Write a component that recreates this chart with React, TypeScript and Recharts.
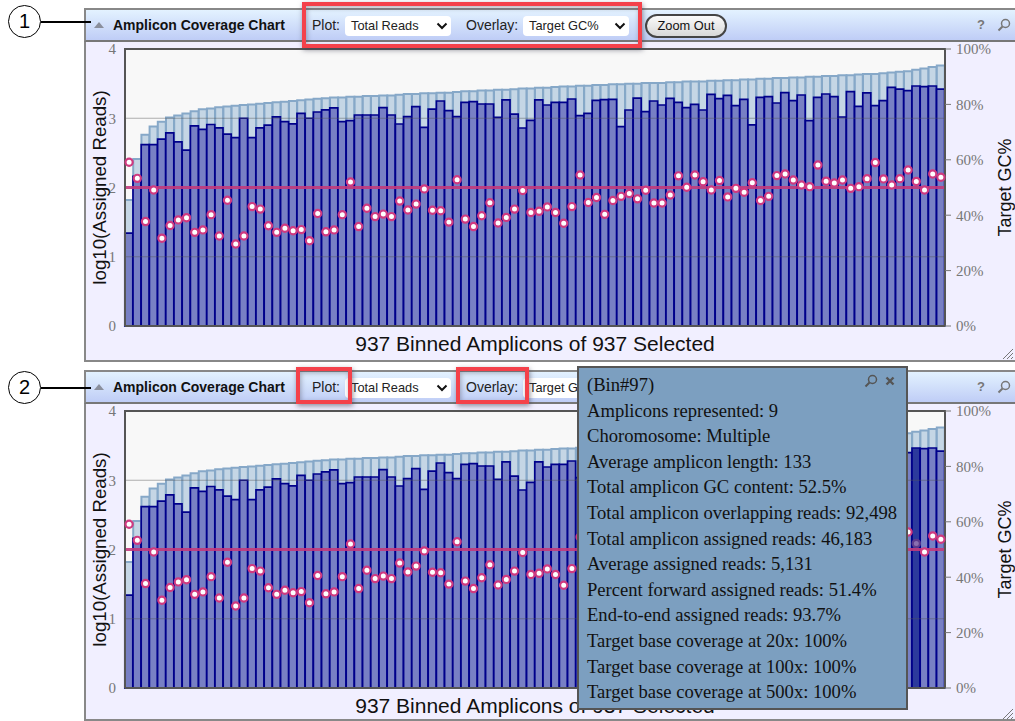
import { ComposedChart, Bar, Line, Cell, XAxis, YAxis, ReferenceLine } from "recharts";

const overlappingLog = [
  1.82, 2.41, 2.76, 2.88, 2.95, 3.01, 3.04, 3.07, 3.1, 3.13, 3.14, 3.16, 3.17, 3.18, 3.19, 3.2, 3.21, 3.22, 3.23, 3.24,
  3.25, 3.26, 3.27, 3.28, 3.29, 3.3, 3.3, 3.31, 3.31, 3.32, 3.32, 3.33, 3.33, 3.34, 3.35, 3.35, 3.36, 3.36, 3.37, 3.37,
  3.38, 3.39, 3.39, 3.4, 3.4, 3.41, 3.41, 3.42, 3.43, 3.43, 3.44, 3.44, 3.45, 3.46, 3.46, 3.47, 3.47, 3.48, 3.48, 3.49,
  3.49, 3.5, 3.5, 3.51, 3.51, 3.51, 3.52, 3.52, 3.53, 3.53, 3.53, 3.54, 3.54, 3.55, 3.55, 3.56, 3.56, 3.57, 3.57, 3.58,
  3.58, 3.59, 3.59, 3.6, 3.6, 3.61, 3.61, 3.62, 3.62, 3.63, 3.64, 3.64, 3.65, 3.66, 3.67, 3.68, 3.7, 3.72, 3.74, 3.76,
];

const assignedLog = [
  1.34, 2.16, 2.62, 2.62, 2.7, 2.79, 2.66, 2.54, 2.89, 2.84, 2.91, 2.86, 2.77, 2.72, 3.0, 2.72, 2.86, 2.9, 3.02, 2.95,
  2.92, 3.07, 3.0, 3.09, 3.12, 3.15, 2.95, 2.965, 3.047, 3.047, 3.047, 3.153, 3.047, 2.917, 3.023, 3.167, 2.869, 3.133,
  3.249, 3.11, 3.023, 3.23, 3.239, 3.206, 3.206, 3.013, 3.264, 3.061, 2.859, 2.97, 3.264, 3.191, 3.23, 3.23, 3.278,
  3.037, 3.071, 3.259, 3.268, 3.273, 2.878, 3.119, 3.292, 3.095, 3.249, 3.191, 3.288, 3.23, 3.153, 3.201, 3.119, 3.345,
  3.283, 3.331, 3.182, 3.273, 2.903, 3.302, 3.312, 3.22, 3.369, 3.254, 3.336, 2.965, 3.302, 3.35, 3.312, 3.018, 3.384,
  3.172, 3.365, 3.182, 3.254, 3.446, 3.422, 3.398, 3.466, 3.456, 3.466, 3.422,
];

const targetGc = [
  59.1, 53.3, 37.7, 49.1, 31.7, 36.3, 38.3, 39.1, 33.8, 34.7, 40.2, 32.5, 45.4, 29.6, 32.5, 43.1, 42.2, 36.2, 33.8, 35.3,
  34.4, 34.8, 30.8, 40.6, 34.0, 34.7, 40.2, 52.0, 35.9, 42.5, 39.5, 40.4, 39.5, 45.1, 41.9, 44.0, 49.5, 41.8, 41.6, 37.5,
  52.8, 38.6, 35.9, 39.8, 44.5, 37.2, 39.2, 42.2, 48.9, 41.0, 41.4, 43.0, 41.0, 37.1, 43.1, 54.5, 44.6, 46.4, 40.3, 45.3,
  46.8, 47.8, 45.9, 49.0, 44.4, 44.4, 47.3, 54.2, 50.1, 54.5, 52.1, 49.1, 52.5, 46.6, 49.7, 48.3, 51.7, 45.3, 46.8, 54.3,
  54.9, 52.7, 50.9, 50.3, 58.1, 52.3, 51.6, 52.7, 49.7, 50.3, 53.2, 59.0, 53.1, 50.9, 53.2, 56.3, 52.2, 49.1, 54.9, 53.7,
];

const readTicks = [0, 1, 2, 3, 4];
const gcTicks = [0, 20, 40, 60, 80, 100];
const gridValues = [1, 3];

const tooltipLines = [
  "(Bin#97)",
  "Amplicons represented: 9",
  "Choromosome: Multiple",
  "Average amplicon length: 133",
  "Total amplicon GC content: 52.5%",
  "Total amplicon overlapping reads: 92,498",
  "Total amplicon assigned reads: 46,183",
  "Average assigned reads: 5,131",
  "Percent forward assigned reads: 51.4%",
  "End-to-end assigned reads: 93.7%",
  "Target base coverage at 20x: 100%",
  "Target base coverage at 100x: 100%",
  "Target base coverage at 500x: 100%",
];

const chartData = overlappingLog.map((v, i) => ({
  bin: i + 1,
  overlapping: v,
  assigned: assignedLog[i],
  gc: targetGc[i],
}));

const SANS = "'Liberation Sans', Arial, sans-serif";
const SERIF = "'Liberation Serif', 'Times New Roman', serif";

function abs(left: number, top: number, width: number, height: number): React.CSSProperties {
  return { position: "absolute", left, top, width, height, boxSizing: "border-box" };
}

function Select({ left, top, width, label }: { left: number; top: number; width: number; label: string }) {
  return (
    <div
      style={{
        ...abs(left, top, width, 20),
        background: "#fff",
        borderRadius: 4,
        fontFamily: SANS,
        fontSize: 12.8,
        lineHeight: "20px",
        paddingLeft: 6,
        color: "#222",
      }}
    >
      {label}
      <svg width={12} height={8} style={{ position: "absolute", right: 3, top: 6 }}>
        <path d="M1.5 1.5 L6 6 L10.5 1.5" fill="none" stroke="#111" strokeWidth={2} />
      </svg>
    </div>
  );
}

function Magnifier({ left, top, color }: { left: number; top: number; color: string }) {
  return (
    <svg width={14} height={14} style={{ position: "absolute", left, top }}>
      <circle cx={8.5} cy={5.5} r={4} fill="none" stroke={color} strokeWidth={1.5} />
      <path d="M5.5 8.5 L1.5 12.5" stroke={color} strokeWidth={2} />
    </svg>
  );
}

function HighlightBox({ left, top, width, height }: { left: number; top: number; width: number; height: number }) {
  return (
    <div
      style={{
        ...abs(left, top, width, height),
        border: "4px solid #f4414a",
        boxShadow: "1px 2px 5px rgba(60,60,80,0.55), inset 1px 2px 5px rgba(60,60,80,0.4)",
      }}
    />
  );
}

function Callout({ top, num }: { top: number; num: string }) {
  return (
    <>
      <div
        style={{
          ...abs(8, top - 16, 33, 33),
          border: "1.5px solid #000",
          borderRadius: "50%",
          background: "#fff",
          textAlign: "center",
          fontFamily: SANS,
          fontSize: 20,
          lineHeight: "30px",
          color: "#000",
        }}
      >
        {num}
      </div>
      <div style={{ ...abs(41, top, 50, 1.5), background: "#000" }} />
    </>
  );
}

function GcDot(props: any) {
  const { cx, cy, index, highlight } = props;
  const active = index === highlight;
  return (
    <circle
      key={index}
      cx={cx}
      cy={cy}
      r={3.6}
      fill={active ? "#8a6fb0" : "#fff"}
      stroke={active ? "#5c3a8e" : "#cf3a80"}
      strokeWidth={2.2}
    />
  );
}

function CoverageChart({ highlight }: { highlight?: number }) {
  return (
    <ComposedChart
      width={931}
      height={320}
      data={chartData}
      margin={{ top: 7, right: 0, bottom: 0, left: 0 }}
      barCategoryGap={0}
      barGap="-100%"
      style={{ position: "absolute", left: 0, top: 0 }}
    >
      <XAxis
        dataKey="bin"
        height={36}
        tick={false}
        tickLine={false}
        axisLine={{ stroke: "#555", strokeWidth: 2 }}
        label={{
          value: "937 Binned Amplicons of 937 Selected",
          position: "insideBottom",
          offset: 11,
          fill: "#111",
          fontSize: 21,
          fontFamily: SANS,
        }}
      />
      <YAxis
        yAxisId="reads"
        width={41}
        domain={[0, 4]}
        ticks={readTicks}
        tickLine={false}
        axisLine={{ stroke: "#555", strokeWidth: 2 }}
        interval={0}
        tick={{ fill: "#777", fontSize: 15, fontFamily: SERIF }}
        tickMargin={3}
        label={{
          value: "log10(Assigned Reads)",
          angle: -90,
          position: "insideLeft",
          textAnchor: "middle",
          offset: 0,
          dx: 15,
          fill: "#111",
          fontSize: 18.7,
          fontFamily: SANS,
        }}
      />
      <YAxis
        yAxisId="gc"
        orientation="right"
        width={70}
        domain={[0, 100]}
        ticks={gcTicks}
        interval={0}
        tickFormatter={(v: number) => `${v}%`}
        tickLine={{ stroke: "#777" }}
        tickSize={6}
        tickMargin={5}
        axisLine={{ stroke: "#555", strokeWidth: 2 }}
        tick={{ fill: "#777", fontSize: 15, fontFamily: SERIF }}
        label={{
          value: "Target GC%",
          angle: -90,
          position: "insideRight",
          textAnchor: "middle",
          offset: 0,
          dx: -10,
          fill: "#111",
          fontSize: 18,
          fontFamily: SANS,
        }}
      />
      <Bar
        yAxisId="reads"
        dataKey="overlapping"
        fill="#c5d6e5"
        stroke="#86a8c8"
        strokeWidth={2}
        isAnimationActive={false}
      />
      <Bar
        yAxisId="reads"
        dataKey="assigned"
        fill="#7880c4"
        stroke="#00008b"
        strokeWidth={1.7}
        isAnimationActive={false}
      >
        {chartData.map((_, i) => (
          <Cell key={i} fill={i === highlight ? "#2c3a9c" : "#7880c4"} />
        ))}
      </Bar>
      {gridValues.map((v) => (
        <ReferenceLine key={v} yAxisId="reads" y={v} stroke="#555" strokeOpacity={0.45} />
      ))}
      <Line
        yAxisId="gc"
        dataKey="gc"
        stroke="none"
        isAnimationActive={false}
        dot={(p: any) => <GcDot {...p} highlight={highlight} />}
      />
      <ReferenceLine yAxisId="gc" y={50} stroke="#c2397c" strokeOpacity={0.9} strokeWidth={3} />
    </ComposedChart>
  );
}

function Panel({ top, height }: { top: number; height: number }) {
  return (
    <div style={{ ...abs(84, top, 940, height), background: "#f1efff", border: "2px solid #888" }}>
      <div
        style={{
          ...abs(-2, -2, 940, 34),
          background: "linear-gradient(#e3f2ff, #bfcdf6)",
          borderTop: "2px solid #888",
          borderBottom: "2px solid #777",
          borderLeft: "2px solid #888",
        }}
      />
    </div>
  );
}

function Header({ top, zoomOut }: { top: number; zoomOut?: boolean }) {
  const labelStyle: React.CSSProperties = { fontFamily: SANS, fontSize: 14, lineHeight: "20px", color: "#222" };
  return (
    <>
      <svg width={10} height={6} style={{ position: "absolute", left: 94, top: top + 14 }}>
        <path d="M0 6 L5 0 L10 6 Z" fill="#8a8f9c" />
      </svg>
      <div style={{ ...abs(113, top + 7, 190, 20), fontFamily: SANS, fontWeight: 700, fontSize: 14, lineHeight: "20px", color: "#111", whiteSpace: "nowrap" }}>
        Amplicon Coverage Chart
      </div>
      <div style={{ ...abs(312, top + 7, 40, 20), ...labelStyle }}>Plot:</div>
      <Select left={345} top={top + 8} width={106} label="Total Reads" />
      <div style={{ ...abs(466, top + 7, 60, 20), ...labelStyle }}>Overlay:</div>
      <Select left={523} top={top + 8} width={106} label="Target GC%" />
      {zoomOut && (
        <div
          style={{
            ...abs(645, top + 6, 82, 24),
            border: "2px solid #444",
            borderRadius: 12,
            background: "linear-gradient(#fafafa, #d8d8d8)",
            fontFamily: SANS,
            fontSize: 12.8,
            lineHeight: "20px",
            textAlign: "center",
            color: "#111",
          }}
        >
          Zoom Out
        </div>
      )}
      <div style={{ ...abs(977, top + 7, 10, 20), fontFamily: SANS, fontWeight: 700, fontSize: 13, lineHeight: "20px", color: "#777" }}>?</div>
      <Magnifier left={997} top={top + 10} color="#777" />
    </>
  );
}

function ResizeGrip({ left, top }: { left: number; top: number }) {
  return (
    <svg width={12} height={12} style={{ position: "absolute", left, top }}>
      <path d="M1 11 L11 1 M5 11 L11 5 M9 11 L11 9" stroke="#777" strokeWidth={1} />
    </svg>
  );
}

export default function App() {
  return (
    <div style={{ ...abs(0, 0, 1015, 721), background: "#fff", overflow: "hidden" }}>
      <Panel top={8} height={354} />
      <Panel top={370} height={351} />

      <div style={{ ...abs(124, 48, 822, 279), background: "#f8f8f8", borderTop: "2px solid #555" }} />
      <div style={{ ...abs(84, 42, 931, 320) }}>
        <CoverageChart />
      </div>
      <Header top={8} zoomOut />
      <ResizeGrip left={1002} top={348} />
      <Callout top={21} num="1" />
      <HighlightBox left={302} top={2} width={340} height={46} />

      <div style={{ ...abs(124, 410, 822, 279), background: "#f8f8f8", borderTop: "2px solid #555" }} />
      <div style={{ ...abs(84, 404, 931, 320) }}>
        <CoverageChart highlight={96} />
      </div>
      <Header top={370} />
      <ResizeGrip left={1002} top={708} />
      <Callout top={387} num="2" />
      <HighlightBox left={296} top={367} width={56} height={37} />
      <HighlightBox left={456} top={367} width={73} height={37} />

      <div style={{ ...abs(577, 366, 331, 344), background: "#7c9fc0", border: "2px solid #555", paddingLeft: 8, paddingTop: 4 }}>
        {tooltipLines.map((line) => (
          <div key={line} style={{ fontFamily: SERIF, fontSize: 18.6, lineHeight: "25.6px", color: "#111", whiteSpace: "nowrap" }}>
            {line}
          </div>
        ))}
        <Magnifier left={285} top={6} color="#555" />
        <svg width={10} height={10} style={{ position: "absolute", left: 306, top: 8 }}>
          <path d="M1.5 1.5 L8.5 8.5 M8.5 1.5 L1.5 8.5" stroke="#555" strokeWidth={2.4} />
        </svg>
      </div>
    </div>
  );
}
